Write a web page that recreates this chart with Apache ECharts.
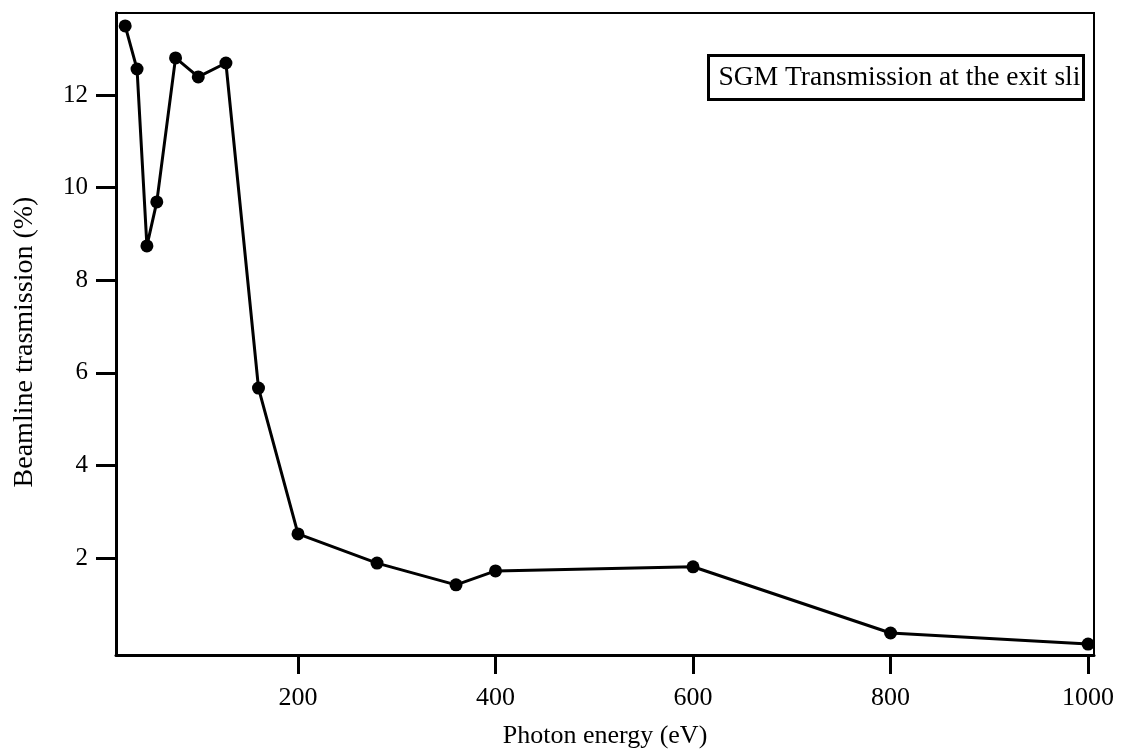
<!DOCTYPE html>
<html>
<head>
<meta charset="utf-8">
<script src="https://cdn.jsdelivr.net/npm/echarts@6/dist/echarts.min.js"></script>
<style>html,body{margin:0;padding:0;background:#fff;}#c{width:1122px;height:752px;}</style>
</head>
<body>
<div id="c"></div>
<script>
const energy = [25, 37, 47, 57, 76, 99, 127, 160, 200, 280, 360, 400, 600, 800, 1000];
const transmission = [13.49, 12.56, 8.74, 9.69, 12.8, 12.39, 12.69, 5.67, 2.52, 1.89, 1.42, 1.72, 1.81, 0.38, 0.14];
const xTicks = [200, 400, 600, 800, 1000];
const yTicks = [2, 4, 6, 8, 10, 12];
const legendText = 'SGM Transmission at the exit slit';

const chart = echarts.init(document.getElementById('c'), null, {renderer: 'canvas'});
const font = 'Liberation Serif';
chart.setOption({
  backgroundColor: '#fff',
  animation: false,
  grid: {left: 116, top: 13, right: 28, bottom: 97, show: true, borderColor: '#000', borderWidth: 2, outerBoundsMode: 'none', containLabel: false},
  xAxis: {
    type: 'value', min: 15.7, max: 1006,
    name: 'Photon energy (eV)', nameLocation: 'middle', nameGap: 68,
    nameTextStyle: {fontFamily: font, fontSize: 26, color: '#000'},
    axisLine: {onZero: false, lineStyle: {color: '#000', width: 3}},
    axisTick: {customValues: xTicks, length: 19, inside: false, lineStyle: {color: '#000', width: 3}},
    axisLabel: {customValues: xTicks, fontFamily: font, fontSize: 26, color: '#000', margin: 30, formatter: v => String(v)},
    splitLine: {show: false}
  },
  yAxis: {
    type: 'value', min: -0.095, max: 13.77,
    name: 'Beamline trasmission (%)', nameLocation: 'middle', nameGap: 77, nameRotate: 90,
    nameTextStyle: {fontFamily: font, fontSize: 28, color: '#000', padding: [0, 16, 0, 0]},
    axisLine: {onZero: false, lineStyle: {color: '#000', width: 3}},
    axisTick: {customValues: yTicks, length: 20, inside: false, lineStyle: {color: '#000', width: 3}},
    axisLabel: {customValues: yTicks, fontFamily: font, fontSize: 25, color: '#000', margin: 28, formatter: v => String(v)},
    splitLine: {show: false}
  },
  series: [{
    type: 'line',
    data: energy.map((e, i) => [e, transmission[i]]),
    symbol: 'circle', symbolSize: 13,
    lineStyle: {color: '#000', width: 3},
    itemStyle: {color: '#000'},
    clip: false
  }],
  graphic: [{
    type: 'group', left: 707, top: 54,
    children: [
      {type: 'rect', shape: {x: 0, y: 0, width: 375, height: 44}, style: {fill: '#fff', stroke: '#000', lineWidth: 3}},
      {type: 'text', x: 10, y: 8, style: {text: legendText, fontFamily: font, fontSize: 27.5, fill: '#000', width: 368, overflow: 'truncate', ellipsis: ''}}
    ]
  }]
});
</script>
</body>
</html>
